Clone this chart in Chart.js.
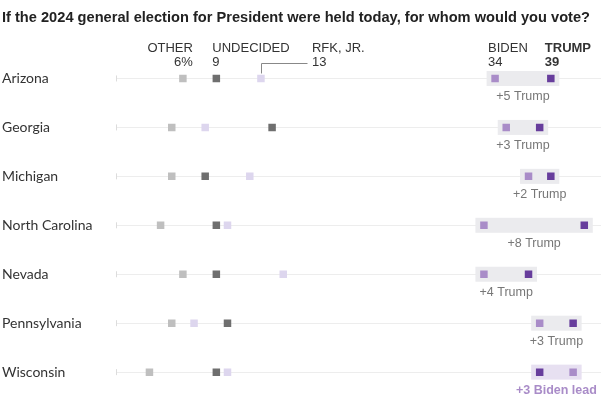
<!DOCTYPE html>
<html>
<head>
<meta charset="utf-8">
<script src="https://cdn.jsdelivr.net/npm/chart.js@4"></script>
<style>
  body { margin: 0; background: #fff; }
  #wrap { width: 607px; height: 405px; position: relative; }
</style>
</head>
<body>
<div id="wrap"><canvas id="myChart"></canvas></div>
<script>
// poll numbers by state, in percent
const states = ["Arizona", "Georgia", "Michigan", "North Carolina", "Nevada", "Pennsylvania", "Wisconsin"];
const other = [6, 5, 5, 4, 6, 5, 3];
const undecided = [9, 14, 8, 9, 9, 10, 9];
const rfk = [13, 8, 12, 10, 15, 7, 10];
const biden = [34, 35, 37, 33, 33, 38, 41];
const trump = [39, 38, 39, 42, 37, 41, 38];
const marginLabels = ["+5 Trump", "+3 Trump", "+2 Trump", "+8 Trump", "+4 Trump", "+3 Trump", "+3 Biden lead"];
const seriesNames = ["OTHER", "UNDECIDED", "RFK, JR.", "BIDEN", "TRUMP"];

const title = "If the 2024 general election for President were held today, for whom would you vote?";
const narrow = "'Liberation Sans Narrow', 'Liberation Sans', sans-serif";

const pts = (arr) => arr.map((v, i) => ({ x: v, y: i }));

const mkSet = (label, arr, color) => ({
  label: label,
  data: pts(arr),
  backgroundColor: color,
  borderWidth: 0,
  pointStyle: "rect",
  pointRadius: 5.3,
  showLine: false,
});

const data = {
  datasets: [
    mkSet("Other", other, "#bfbfbf"),
    mkSet("Undecided", undecided, "#6f6f6f"),
    mkSet("RFK, Jr.", rfk, "#ddd6ee"),
    mkSet("Biden", biden, "#a98cc8"),
    mkSet("Trump", trump, "#673d9c"),
  ],
};

const extras = {
  id: "extras",
  beforeDatasetsDraw(chart) {
    const ctx = chart.ctx;
    const x = chart.scales.x;
    const y = chart.scales.y;
    ctx.save();
    states.forEach((s, i) => {
      const yy = y.getPixelForValue(i);
      // little tick at the start of each row
      ctx.strokeStyle = "#dcdcdc";
      ctx.lineWidth = 1;
      ctx.beginPath();
      ctx.moveTo(x.left + 0.5, yy - 3);
      ctx.lineTo(x.left + 0.5, yy + 3);
      ctx.stroke();
      // band between biden and trump
      const x1 = x.getPixelForValue(Math.min(biden[i], trump[i])) - 8.5;
      const x2 = x.getPixelForValue(Math.max(biden[i], trump[i])) + 8.5;
      ctx.fillStyle = trump[i] >= biden[i] ? "#ebebee" : "#e7e0f1";
      ctx.fillRect(x1, yy - 7.5, x2 - x1, 15);
    });
    ctx.restore();
  },
  afterDatasetsDraw(chart) {
    const ctx = chart.ctx;
    const x = chart.scales.x;
    const y = chart.scales.y;
    ctx.save();
    ctx.textBaseline = "middle";

    // title
    ctx.fillStyle = "#222";
    ctx.font = "bold 15px " + narrow;
    ctx.textAlign = "left";
    ctx.fillText(title, 2, 18, 588);

    // margin labels
    states.forEach((s, i) => {
      const yy = y.getPixelForValue(i);
      const x1 = x.getPixelForValue(Math.min(biden[i], trump[i]));
      const x2 = x.getPixelForValue(Math.max(biden[i], trump[i]));
      const bidenLead = biden[i] > trump[i];
      ctx.fillStyle = bidenLead ? "#a98cc8" : "#777";
      ctx.font = (bidenLead ? "bold " : "") + "12.5px " + narrow;
      ctx.textAlign = "center";
      ctx.fillText(marginLabels[i], (x1 + x2) / 2, yy + 18);
    });

    // column headers over the first row
    const y0 = y.getPixelForValue(0);
    const vals = [other[0], undecided[0], rfk[0], biden[0], trump[0]];
    const heads = [
      { dx: 10, align: "right", num: vals[0] + "%" },
      { dx: -4, align: "left", num: String(vals[1]) },
      { dx: 51, align: "left", num: String(vals[2]) },
      { dx: -7, align: "left", num: String(vals[3]) },
      { dx: -6, align: "left", num: String(vals[4]) },
    ];
    heads.forEach((h, k) => {
      const px = x.getPixelForValue(vals[k]) + h.dx;
      const bold = k === 4 ? "bold " : "";
      ctx.fillStyle = "#333";
      ctx.textAlign = h.align;
      ctx.font = bold + "13px " + narrow;
      ctx.fillText(seriesNames[k], px, 48);
      ctx.fillText(h.num, px, 62);
    });

    // leader for RFK label
    const rx = Math.round(x.getPixelForValue(rfk[0])) + 0.5;
    ctx.strokeStyle = "#888";
    ctx.lineWidth = 1;
    ctx.beginPath();
    ctx.moveTo(rx, y0 - 5);
    ctx.lineTo(rx, 63.5);
    ctx.lineTo(rx + 46, 63.5);
    ctx.stroke();
    ctx.restore();
  },
};

const options = {
  responsive: true,
  maintainAspectRatio: false,
  animation: false,
  layout: { padding: { left: 2, right: 6, top: 54, bottom: 2 } },
  plugins: { legend: { display: false }, tooltip: { enabled: false }, title: { display: false } },
  scales: {
    x: { type: "linear", min: 0, max: 43.5, display: false },
    y: {
      type: "linear",
      min: -0.5,
      max: 6.5,
      reverse: true,
      afterBuildTicks: (a) => { a.ticks = states.map((s, i) => ({ value: i })); },
      afterFit: (a) => { a.width = 114; },
      ticks: {
        callback: (v) => states[v],
        crossAlign: "far",
        padding: 0,
        color: "#333",
        font: { family: "Lato", size: 14 },
      },
      grid: { color: "#ededed", drawTicks: false },
      border: { display: false },
    },
  },
};

const ctx = document.getElementById("myChart").getContext("2d");
window.grafica = new Chart(ctx, { type: "scatter", data: data, options: options, plugins: [extras] });
</script>
</body>
</html>
